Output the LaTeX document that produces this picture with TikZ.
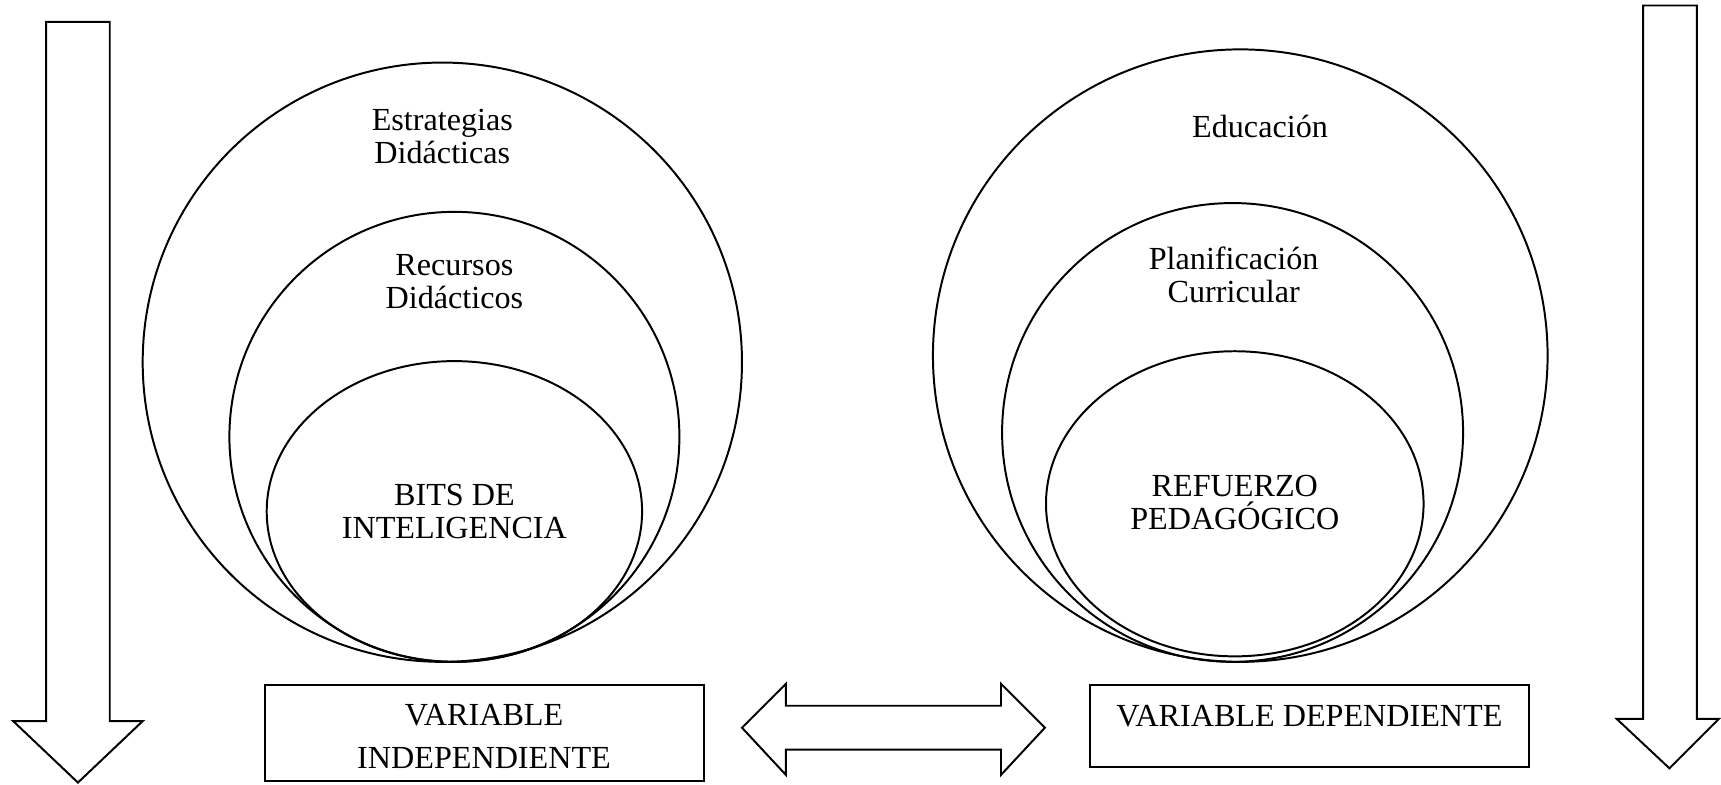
\documentclass[tikz,border=0pt]{standalone}
\usepackage{fontspec}
\setmainfont{Liberation Serif}
\begin{document}
\begin{tikzpicture}[x=1pt,y=-1pt,
  lbl/.style={align=center, font=\fontsize{29.3}{30}\selectfont, inner sep=0pt},
  outl/.style={draw, line width=1.8pt, line join=miter},
  boxn/.style={draw, line width=1.8pt, inner sep=0pt}]
\useasboundingbox (0,0) rectangle (1568,715);
% side arrows
\draw[outl] (42,20) -- (100,20) -- (100,657) -- (130,657) -- (71,713) -- (12,657) -- (42,657) -- cycle;
\draw[outl] (1497,5) -- (1546,5) -- (1546,655) -- (1566,655) -- (1521,700) -- (1473,655) -- (1497,655) -- cycle;
% left circles
\draw[outl] (403,330) ellipse [x radius=273pt, y radius=273pt];
\draw[outl] (414,398) ellipse [x radius=205pt, y radius=205pt];
\draw[outl] (414,466) ellipse [x radius=171pt, y radius=137pt];
% right circles
\draw[outl] (1130,324) ellipse [x radius=280pt, y radius=279pt];
\draw[outl] (1123,394) ellipse [x radius=210pt, y radius=209pt];
\draw[outl] (1125,459) ellipse [x radius=172pt, y radius=139pt];
% labels
\node[lbl] (est) at (403,124) {Estrategias\\Didácticas};
\node[lbl] (rec) at (414,257) {Recursos\\Didácticos};
\node[lbl] (bits) at (414,466) {BITS DE\\INTELIGENCIA};
\node[lbl] (edu) at (1148,115) {Educación};
\node[lbl] (pla) at (1124,250) {Planificación\\Curricular};
\node[lbl] (ref) at (1125,458) {REFUERZO\\PEDAGÓGICO};
% boxes
\node[boxn, minimum width=400pt, minimum height=88pt] (vi) at (441,668) {};
\node[lbl, font=\fontsize{29.3}{39}\selectfont] (vit) at (441,671) {VARIABLE\\INDEPENDIENTE};
\node[boxn, minimum width=400pt, minimum height=75pt] (vd) at (1193,661.5) {};
\node[lbl] (vdt) at (1193,652) {VARIABLE DEPENDIENTE};
% double arrow
\draw[outl] (676,663) -- (716,623) -- (716,643) -- (912,643) -- (912,623) -- (952,663)
  -- (912,706) -- (912,683) -- (716,683) -- (716,706) -- cycle;
\end{tikzpicture}
\end{document}
